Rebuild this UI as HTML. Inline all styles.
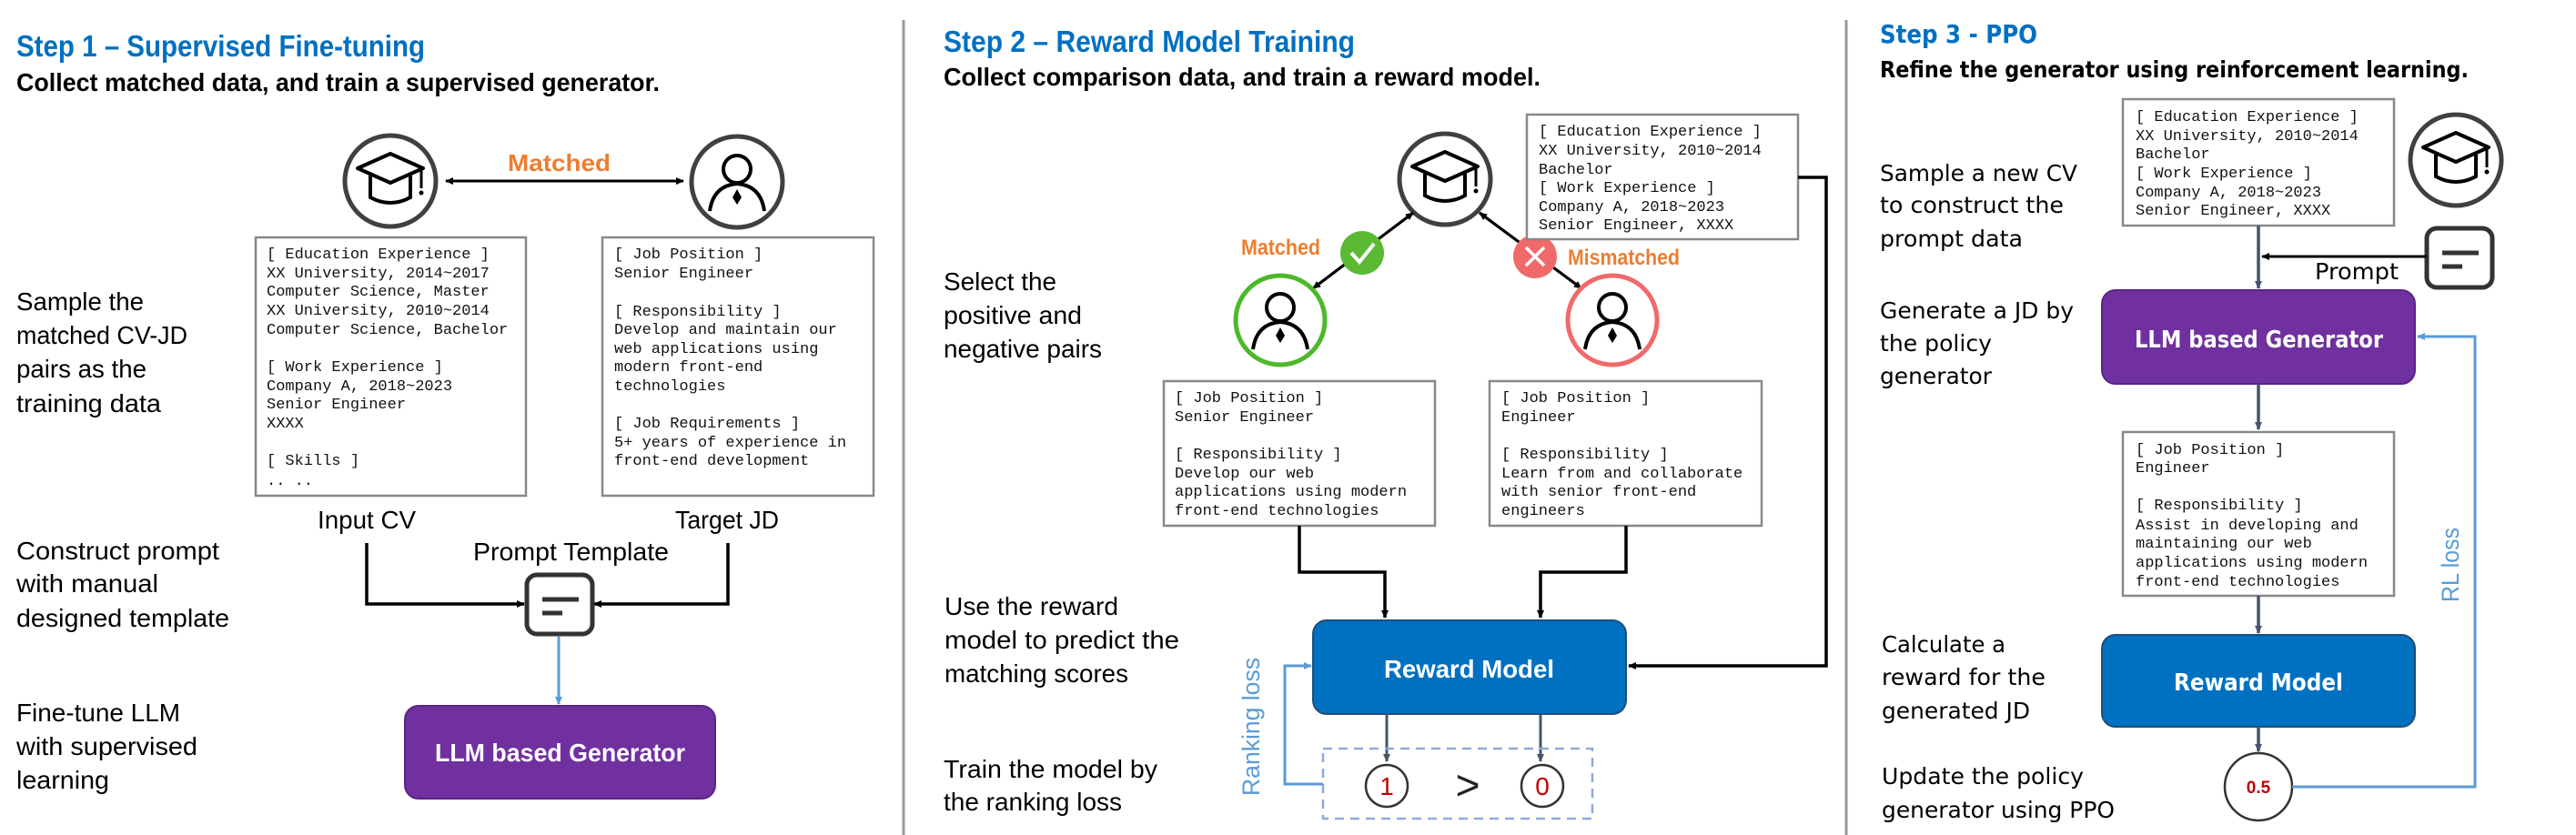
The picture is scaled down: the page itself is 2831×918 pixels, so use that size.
<!DOCTYPE html>
<html><head><meta charset="utf-8"><style>html,body{margin:0;padding:0;background:#fff}svg{display:block}</style></head>
<body>
<svg width="2831" height="918" viewBox="0 0 2831 918" xmlns="http://www.w3.org/2000/svg" font-family="Liberation Sans, sans-serif">
<defs>
<marker id="ak" markerWidth="10" markerHeight="10" refX="8" refY="5" orient="auto" markerUnits="userSpaceOnUse"><path d="M0,1 L9,5 L0,9 Z" fill="#000"/></marker>
<marker id="ab" markerWidth="10" markerHeight="10" refX="8" refY="5" orient="auto" markerUnits="userSpaceOnUse"><path d="M0,1 L9,5 L0,9 Z" fill="#5B9BD5"/></marker>
<marker id="ag" markerWidth="10" markerHeight="10" refX="8" refY="5" orient="auto" markerUnits="userSpaceOnUse"><path d="M0,1 L9,5 L0,9 Z" fill="#44546A"/></marker>
<g id="cap"><path d="M-36,-14 L0,-30 L36,-14 L0,2 Z" fill="none" stroke="#000" stroke-width="4" stroke-linejoin="round"/><path d="M-22,-6 V18 Q0,30 22,18 V-6" fill="none" stroke="#000" stroke-width="4"/><path d="M34,-12 V8" stroke="#000" stroke-width="3"/><circle cx="34" cy="13" r="2.5" fill="#000"/></g>
<g id="person"><circle cx="0" cy="-14" r="15" fill="none" stroke="#000" stroke-width="4"/><path d="M-30,32 Q-26,4 0,2 Q26,4 30,32" fill="none" stroke="#000" stroke-width="4"/><path d="M0,8 L5,17 L0,25 L-5,17 Z" fill="#000"/></g>
<g id="tmpl"><rect x="0" y="0" width="72" height="65" rx="11" fill="#fff" stroke="#333" stroke-width="5"/><path d="M17,27 H57 M17,42 H39" stroke="#333" stroke-width="5"/></g>
</defs>

<!-- dividers -->
<line x1="993" y1="22" x2="993" y2="918" stroke="#999" stroke-width="3"/>
<line x1="2029" y1="22" x2="2029" y2="918" stroke="#999" stroke-width="3"/>

<!-- ========== PANEL 1 ========== -->
<text x="18" y="62" font-size="33" font-weight="bold" fill="#0070C0" textLength="449" lengthAdjust="spacingAndGlyphs">Step 1 – Supervised Fine-tuning</text>
<text x="18" y="100" font-size="28" font-weight="bold" fill="#000" textLength="707" lengthAdjust="spacingAndGlyphs">Collect matched data, and train a supervised generator.</text>
<g font-size="28" fill="#000">
<text x="18" y="341" textLength="140" lengthAdjust="spacingAndGlyphs">Sample the</text>
<text x="18" y="378" textLength="188" lengthAdjust="spacingAndGlyphs">matched CV-JD</text>
<text x="18" y="415" textLength="143" lengthAdjust="spacingAndGlyphs">pairs as the</text>
<text x="18" y="453" textLength="159" lengthAdjust="spacingAndGlyphs">training data</text>
<text x="18" y="615" textLength="223" lengthAdjust="spacingAndGlyphs">Construct prompt</text>
<text x="18" y="651" textLength="156" lengthAdjust="spacingAndGlyphs">with manual</text>
<text x="18" y="689" textLength="234" lengthAdjust="spacingAndGlyphs">designed template</text>
<text x="18" y="793" textLength="180" lengthAdjust="spacingAndGlyphs">Fine-tune LLM</text>
<text x="18" y="830" textLength="199" lengthAdjust="spacingAndGlyphs">with supervised</text>
<text x="18" y="867" textLength="102" lengthAdjust="spacingAndGlyphs">learning</text>
<text x="349" y="581" textLength="108" lengthAdjust="spacingAndGlyphs">Input CV</text>
<text x="742" y="581" textLength="114" lengthAdjust="spacingAndGlyphs">Target JD</text>
<text x="520" y="616" textLength="215" lengthAdjust="spacingAndGlyphs">Prompt Template</text>
</g>
<circle cx="429" cy="199" r="50" fill="#fff" stroke="#404040" stroke-width="5"/>
<use href="#cap" x="429" y="199"/>
<circle cx="810" cy="200" r="50" fill="#fff" stroke="#404040" stroke-width="5"/>
<use href="#person" x="810" y="200"/>
<line x1="490" y1="199" x2="751" y2="199" stroke="#000" stroke-width="3" marker-end="url(#ak)"/>
<line x1="751" y1="199" x2="490" y2="199" stroke="#000" stroke-width="3" marker-end="url(#ak)"/>
<text x="558" y="188" font-size="26" font-weight="bold" fill="#ED7D31" textLength="113" lengthAdjust="spacingAndGlyphs">Matched</text>

<rect x="281" y="261" width="297" height="284" fill="#fff" stroke="#888" stroke-width="2.5"/>
<g font-family="Liberation Mono, monospace" font-size="17" fill="#111">
<text x="293" y="284">[ Education Experience ]</text>
<text x="293" y="305">XX University, 2014~2017</text>
<text x="293" y="325">Computer Science, Master</text>
<text x="293" y="346">XX University, 2010~2014</text>
<text x="293" y="367">Computer Science, Bachelor</text>
<text x="293" y="408">[ Work Experience ]</text>
<text x="293" y="429">Company A, 2018~2023</text>
<text x="293" y="449">Senior Engineer</text>
<text x="293" y="470">XXXX</text>
<text x="293" y="511">[ Skills ]</text>
<text x="293" y="533">.. ..</text>
</g>
<rect x="662" y="261" width="298" height="284" fill="#fff" stroke="#888" stroke-width="2.5"/>
<g font-family="Liberation Mono, monospace" font-size="17" fill="#111">
<text x="675" y="284">[ Job Position ]</text>
<text x="675" y="305">Senior Engineer</text>
<text x="675" y="347">[ Responsibility ]</text>
<text x="675" y="367">Develop and maintain our</text>
<text x="675" y="388">web applications using</text>
<text x="675" y="408">modern front-end</text>
<text x="675" y="429">technologies</text>
<text x="675" y="470">[ Job Requirements ]</text>
<text x="675" y="491">5+ years of experience in</text>
<text x="675" y="511">front-end development</text>
</g>
<polyline points="403,597 403,664 576,664" fill="none" stroke="#000" stroke-width="3.5" marker-end="url(#ak)"/>
<polyline points="800,597 800,664 653,664" fill="none" stroke="#000" stroke-width="3.5" marker-end="url(#ak)"/>
<use href="#tmpl" x="579" y="632"/>
<line x1="614" y1="699" x2="614" y2="774" stroke="#5B9BD5" stroke-width="3" marker-end="url(#ab)"/>
<rect x="445" y="776" width="341" height="102" rx="15" fill="#7030A0" stroke="#5a2585" stroke-width="2"/>
<text x="478" y="837" font-size="28" font-weight="bold" fill="#fff" textLength="275" lengthAdjust="spacingAndGlyphs">LLM based Generator</text>

<!-- ========== PANEL 2 ========== -->
<text x="1037" y="57" font-size="33" font-weight="bold" fill="#0070C0" textLength="452" lengthAdjust="spacingAndGlyphs">Step 2 – Reward Model Training</text>
<text x="1037" y="94" font-size="28" font-weight="bold" fill="#000" textLength="656" lengthAdjust="spacingAndGlyphs">Collect comparison data, and train a reward model.</text>
<g font-size="28" fill="#000">
<text x="1037" y="319" textLength="124" lengthAdjust="spacingAndGlyphs">Select the</text>
<text x="1037" y="356" textLength="152" lengthAdjust="spacingAndGlyphs">positive and</text>
<text x="1037" y="393" textLength="174" lengthAdjust="spacingAndGlyphs">negative pairs</text>
<text x="1038" y="676" textLength="191" lengthAdjust="spacingAndGlyphs">Use the reward</text>
<text x="1038" y="713" textLength="258" lengthAdjust="spacingAndGlyphs">model to predict the</text>
<text x="1038" y="750" textLength="202" lengthAdjust="spacingAndGlyphs">matching scores</text>
<text x="1037" y="855" textLength="235" lengthAdjust="spacingAndGlyphs">Train the model by</text>
<text x="1037" y="891" textLength="196" lengthAdjust="spacingAndGlyphs">the ranking loss</text>
</g>
<circle cx="1588" cy="197" r="50" fill="#fff" stroke="#404040" stroke-width="5"/>
<use href="#cap" x="1588" y="197"/>
<line x1="1443" y1="317" x2="1553" y2="234" stroke="#000" stroke-width="3" marker-end="url(#ak)"/>
<line x1="1553" y1="234" x2="1443" y2="317" stroke="#000" stroke-width="3" marker-end="url(#ak)"/>
<line x1="1738" y1="317" x2="1626" y2="234" stroke="#000" stroke-width="3" marker-end="url(#ak)"/>
<line x1="1626" y1="234" x2="1738" y2="317" stroke="#000" stroke-width="3" marker-end="url(#ak)"/>
<circle cx="1497" cy="278" r="24" fill="#5CB934"/>
<path d="M1485,278 L1494,288 L1510,268" fill="none" stroke="#fff" stroke-width="4"/>
<circle cx="1687" cy="282" r="24" fill="#F06A6A"/>
<path d="M1677,272 L1697,292 M1697,272 L1677,292" stroke="#fff" stroke-width="3.5"/>
<text x="1364" y="280" font-size="24" font-weight="bold" fill="#ED7D31" textLength="87" lengthAdjust="spacingAndGlyphs">Matched</text>
<text x="1723" y="291" font-size="24" font-weight="bold" fill="#ED7D31" textLength="123" lengthAdjust="spacingAndGlyphs">Mismatched</text>
<circle cx="1407" cy="352" r="49" fill="#fff" stroke="#4CB82A" stroke-width="5"/>
<use href="#person" x="1407" y="352"/>
<circle cx="1772" cy="352" r="49" fill="#fff" stroke="#F06A6A" stroke-width="5"/>
<use href="#person" x="1772" y="352"/>

<rect x="1678" y="126" width="298" height="137" fill="#fff" stroke="#888" stroke-width="2.5"/>
<g font-family="Liberation Mono, monospace" font-size="17" fill="#111">
<text x="1691" y="149">[ Education Experience ]</text>
<text x="1691" y="170">XX University, 2010~2014</text>
<text x="1691" y="191">Bachelor</text>
<text x="1691" y="211">[ Work Experience ]</text>
<text x="1691" y="232">Company A, 2018~2023</text>
<text x="1691" y="252">Senior Engineer, XXXX</text>
</g>
<polyline points="1976,195 2007,195 2007,732 1790,732" fill="none" stroke="#000" stroke-width="3.5" marker-end="url(#ak)"/>

<rect x="1279" y="419" width="298" height="159" fill="#fff" stroke="#888" stroke-width="2.5"/>
<g font-family="Liberation Mono, monospace" font-size="17" fill="#111">
<text x="1291" y="442">[ Job Position ]</text>
<text x="1291" y="463">Senior Engineer</text>
<text x="1291" y="504">[ Responsibility ]</text>
<text x="1291" y="525">Develop our web</text>
<text x="1291" y="545">applications using modern</text>
<text x="1291" y="566">front-end technologies</text>
</g>
<rect x="1637" y="419" width="299" height="159" fill="#fff" stroke="#888" stroke-width="2.5"/>
<g font-family="Liberation Mono, monospace" font-size="17" fill="#111">
<text x="1650" y="442">[ Job Position ]</text>
<text x="1650" y="463">Engineer</text>
<text x="1650" y="504">[ Responsibility ]</text>
<text x="1650" y="525">Learn from and collaborate</text>
<text x="1650" y="545">with senior front-end</text>
<text x="1650" y="566">engineers</text>
</g>
<polyline points="1428,578 1428,629 1522,629 1522,679" fill="none" stroke="#000" stroke-width="3.5" marker-end="url(#ak)"/>
<polyline points="1787,578 1787,629 1693,629 1693,679" fill="none" stroke="#000" stroke-width="3.5" marker-end="url(#ak)"/>
<rect x="1443" y="682" width="344" height="103" rx="15" fill="#0070C0" stroke="#1f4e79" stroke-width="2"/>
<text x="1521" y="745" font-size="28" font-weight="bold" fill="#fff" textLength="187" lengthAdjust="spacingAndGlyphs">Reward Model</text>
<line x1="1524" y1="785" x2="1524" y2="837" stroke="#44546A" stroke-width="3" marker-end="url(#ag)"/>
<line x1="1693" y1="785" x2="1693" y2="837" stroke="#44546A" stroke-width="3" marker-end="url(#ag)"/>
<rect x="1454" y="823" width="296" height="77" fill="none" stroke="#8FAADC" stroke-width="2.5" stroke-dasharray="10,7"/>
<circle cx="1524" cy="864" r="23" fill="#fff" stroke="#333" stroke-width="2.5"/>
<text x="1524" y="874" font-size="28" fill="#C00000" text-anchor="middle">1</text>
<circle cx="1695" cy="864" r="23" fill="#fff" stroke="#333" stroke-width="2.5"/>
<text x="1695" y="874" font-size="28" fill="#C00000" text-anchor="middle">0</text>
<text x="1613" y="879" font-size="46" fill="#222" text-anchor="middle">&gt;</text>
<polyline points="1454,862 1412,862 1412,732 1441,732" fill="none" stroke="#5B9BD5" stroke-width="3" marker-end="url(#ab)"/>
<text transform="translate(1384,875) rotate(-90)" font-size="27" fill="#5B9BD5" textLength="152" lengthAdjust="spacingAndGlyphs">Ranking loss</text>

<!-- ========== PANEL 3 ========== -->
<g font-family="DejaVu Sans, sans-serif">
<text x="2066" y="47" font-size="28" font-weight="bold" fill="#0070C0" textLength="173" lengthAdjust="spacingAndGlyphs">Step 3 - PPO</text>
<text x="2066" y="85" font-size="25" font-weight="bold" fill="#000" textLength="647" lengthAdjust="spacingAndGlyphs">Refine the generator using reinforcement learning.</text>
<g font-size="25" fill="#000">
<text x="2066" y="199" textLength="217" lengthAdjust="spacingAndGlyphs">Sample a new CV</text>
<text x="2066" y="234" textLength="202" lengthAdjust="spacingAndGlyphs">to construct the</text>
<text x="2066" y="271" textLength="157" lengthAdjust="spacingAndGlyphs">prompt data</text>
<text x="2066" y="350" textLength="213" lengthAdjust="spacingAndGlyphs">Generate a JD by</text>
<text x="2066" y="386" textLength="123" lengthAdjust="spacingAndGlyphs">the policy</text>
<text x="2066" y="422" textLength="123" lengthAdjust="spacingAndGlyphs">generator</text>
<text x="2068" y="717" textLength="136" lengthAdjust="spacingAndGlyphs">Calculate a</text>
<text x="2068" y="753" textLength="180" lengthAdjust="spacingAndGlyphs">reward for the</text>
<text x="2068" y="790" textLength="163" lengthAdjust="spacingAndGlyphs">generated JD</text>
<text x="2068" y="862" textLength="222" lengthAdjust="spacingAndGlyphs">Update the policy</text>
<text x="2068" y="899" textLength="256" lengthAdjust="spacingAndGlyphs">generator using PPO</text>
<text x="2544" y="307" textLength="92" lengthAdjust="spacingAndGlyphs">Prompt</text>
</g>
</g>
<rect x="2333" y="109" width="298" height="139" fill="#fff" stroke="#888" stroke-width="2.5"/>
<g font-family="Liberation Mono, monospace" font-size="17" fill="#111">
<text x="2347" y="133">[ Education Experience ]</text>
<text x="2347" y="154">XX University, 2010~2014</text>
<text x="2347" y="174">Bachelor</text>
<text x="2347" y="195">[ Work Experience ]</text>
<text x="2347" y="216">Company A, 2018~2023</text>
<text x="2347" y="236">Senior Engineer, XXXX</text>
</g>
<circle cx="2699" cy="176" r="50" fill="#fff" stroke="#404040" stroke-width="5"/>
<use href="#cap" x="2699" y="176"/>
<use href="#tmpl" x="2667" y="251"/>
<line x1="2667" y1="282" x2="2486" y2="282" stroke="#000" stroke-width="3" marker-end="url(#ak)"/>
<line x1="2482" y1="248" x2="2482" y2="317" stroke="#44546A" stroke-width="3.5" marker-end="url(#ag)"/>
<rect x="2310" y="319" width="344" height="103" rx="15" fill="#7030A0" stroke="#5a2585" stroke-width="2"/>
<text x="2346" y="382" font-family="DejaVu Sans, sans-serif" font-size="26" font-weight="bold" fill="#fff" textLength="273" lengthAdjust="spacingAndGlyphs">LLM based Generator</text>
<line x1="2482" y1="422" x2="2482" y2="472" stroke="#44546A" stroke-width="3.5" marker-end="url(#ag)"/>
<rect x="2333" y="475" width="298" height="180" fill="#fff" stroke="#888" stroke-width="2.5"/>
<g font-family="Liberation Mono, monospace" font-size="17" fill="#111">
<text x="2347" y="499">[ Job Position ]</text>
<text x="2347" y="519">Engineer</text>
<text x="2347" y="560">[ Responsibility ]</text>
<text x="2347" y="582">Assist in developing and</text>
<text x="2347" y="602">maintaining our web</text>
<text x="2347" y="623">applications using modern</text>
<text x="2347" y="644">front-end technologies</text>
</g>
<line x1="2482" y1="655" x2="2482" y2="696" stroke="#44546A" stroke-width="3.5" marker-end="url(#ag)"/>
<rect x="2310" y="698" width="344" height="101" rx="15" fill="#0070C0" stroke="#1f4e79" stroke-width="2"/>
<text x="2389" y="759" font-family="DejaVu Sans, sans-serif" font-size="26" font-weight="bold" fill="#fff" textLength="186" lengthAdjust="spacingAndGlyphs">Reward Model</text>
<line x1="2482" y1="799" x2="2482" y2="826" stroke="#44546A" stroke-width="3.5" marker-end="url(#ag)"/>
<circle cx="2482" cy="865" r="37" fill="#fff" stroke="#333" stroke-width="2.5"/>
<text x="2482" y="872" font-size="19" font-weight="bold" fill="#C00000" text-anchor="middle">0.5</text>
<polyline points="2519,865 2720,865 2720,370 2657,370" fill="none" stroke="#5B9BD5" stroke-width="3" marker-end="url(#ab)"/>
<text transform="translate(2702,662) rotate(-90)" font-size="27" fill="#5B9BD5" textLength="82" lengthAdjust="spacingAndGlyphs">RL loss</text>
</svg>
</body></html>
